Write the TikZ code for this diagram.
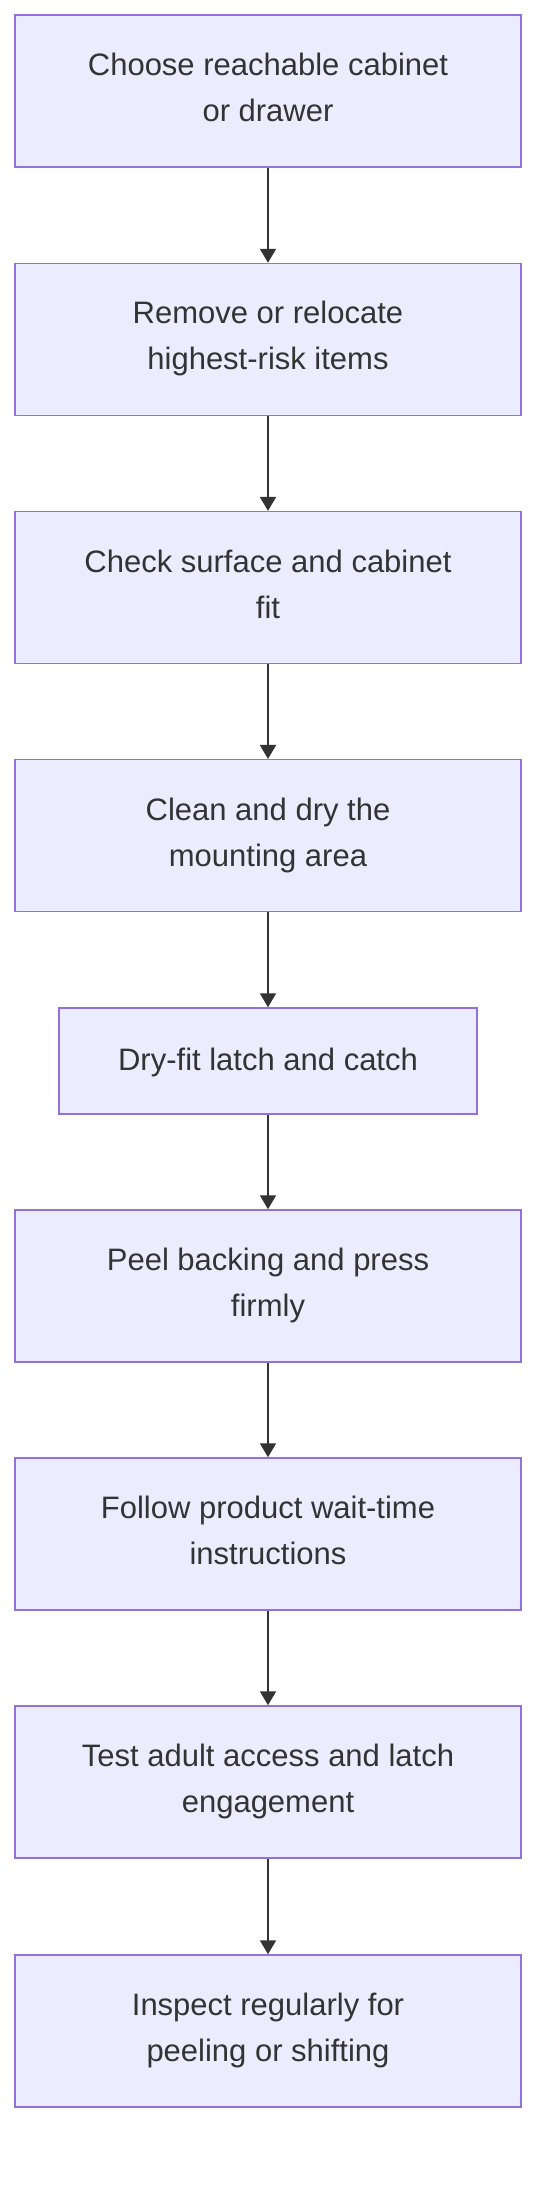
\documentclass[tikz,border=0pt]{standalone}
\usepackage{fontspec}
\setmainfont{Liberation Sans}
\usetikzlibrary{arrows.meta}
\definecolor{boxfill}{HTML}{ECECFF}
\definecolor{boxline}{HTML}{9370DB}
\definecolor{ink}{HTML}{333333}
\begin{document}
\begin{tikzpicture}[x=1pt,y=1pt,
  stepbox/.style={draw=boxline, fill=boxfill, line width=1.5pt, rectangle,
    minimum width=506pt, minimum height=152pt, inner sep=0pt, align=center,
    text=ink, font=\fontsize{31}{46}\selectfont,
    execute at begin node={\rule{0pt}{27pt}},
    execute at end node={\rule[-7.5pt]{0pt}{7.5pt}}},
  flow/.style={draw=ink, line width=2pt, -{Triangle[width=16pt,length=14pt]}}]
\useasboundingbox (0,0) rectangle (552,-2188);
\node[stepbox] (b1) at (268,-91) {Choose reachable cabinet\\or drawer};
\node[stepbox] (b2) at (268,-339.5) {Remove or relocate\\highest-risk items};
\node[stepbox] (b3) at (268,-587.6) {Check surface and cabinet\\fit};
\node[stepbox] (b4) at (268,-835.7) {Clean and dry the\\mounting area};
\node[stepbox, minimum width=418pt, minimum height=106pt] (b5) at (268,-1061) {Dry-fit latch and catch};
\node[stepbox] (b6) at (268,-1286) {Peel backing and press\\firmly};
\node[stepbox] (b7) at (268,-1534) {Follow product wait-time\\instructions};
\node[stepbox] (b8) at (268,-1782) {Test adult access and latch\\engagement};
\node[stepbox] (b9) at (268,-2031) {Inspect regularly for\\peeling or shifting};
\draw[flow] (b1) -- (b2);
\draw[flow] (b2) -- (b3);
\draw[flow] (b3) -- (b4);
\draw[flow] (b4) -- (b5);
\draw[flow] (b5) -- (b6);
\draw[flow] (b6) -- (b7);
\draw[flow] (b7) -- (b8);
\draw[flow] (b8) -- (b9);
\end{tikzpicture}
\end{document}
